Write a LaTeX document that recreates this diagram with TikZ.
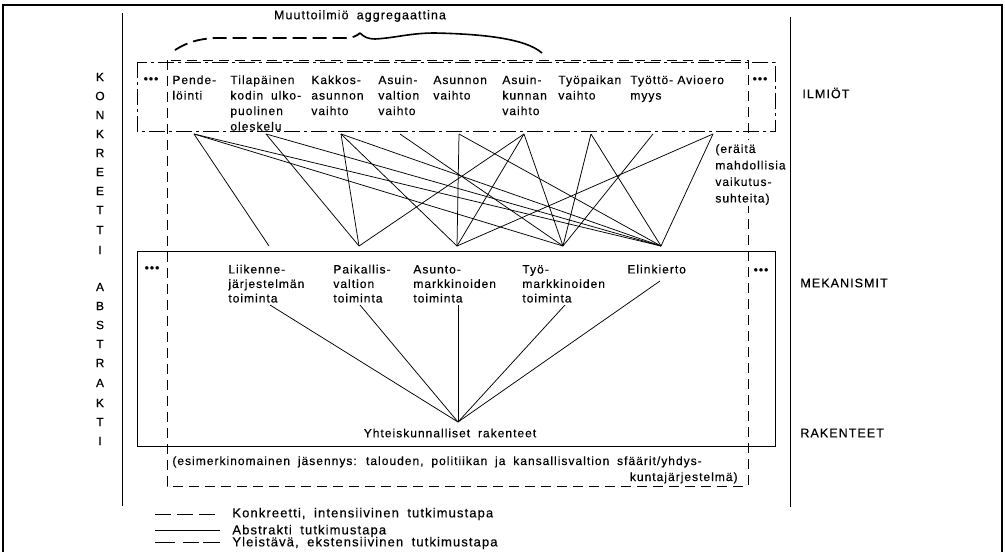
\documentclass[tikz,border=0pt]{standalone}
\usepackage{fontspec}
\setmainfont{Liberation Sans}[LetterSpace=8.5,WordSpace=1.8,FakeBold=0.35]
\begin{document}
\begin{tikzpicture}[x=1pt,y=-1pt,line width=0.8pt,
  every node/.style={inner sep=0pt},
  ph/.style={anchor=north west,align=left,font=\fontsize{12}{15.5}\selectfont},
  mech/.style={anchor=north west,align=left,font=\fontsize{12}{14.5}\selectfont},
  big/.style={font=\fontsize{12.5}{15}\selectfont,anchor=west},
  letter/.style={font=\fontsize{12}{14}\selectfont},
  dotsn/.style={font=\fontsize{12}{12}\selectfont},
  conkr/.style={dash pattern=on 10pt off 6pt,line width=1pt},
  yleis/.style={dash pattern=on 16pt off 4pt on 3pt off 4pt,line width=1pt},
  abst/.style={line width=1pt},
  rel/.style={line width=0.75pt}]
\useasboundingbox (0,0) rectangle (1005,552);
% outer frame
\draw[line width=1.2pt] (3,560) -- (3,5) -- (1002,5) -- (1002,560);
% inner verticals
\draw[line width=1pt] (122,13) -- (122,506);
\draw[line width=1pt] (790,17) -- (790,507);
% left letters
\foreach \ch/\yy in {K/77,O/96,N/115,K/134,R/153,E/172,E/191,T/210,T/230,I/250,
                     A/287,B/306,S/325,T/344,R/363,A/383,K/403,T/422,I/441}
  \node[letter] at (100,\yy) {\ch};
% right labels
\node[big] (ilm) at (802,93) {ILMIÖT};
\node[big] (mek) at (800,283) {MEKANISMIT};
\node[big] (rak) at (800,433) {RAKENTEET};
% title and brace
\node[font=\fontsize{12.5}{14}\selectfont] (title) at (360,16) {Muuttoilmiö aggregaattina};
\draw[line width=1.8pt,dash pattern=on 14pt off 6pt]
  (175,50) .. controls (188,42) and (198,39) .. (215,38) -- (345,38)
  .. controls (352,38) and (357,36) .. (360,33);
\draw[line width=1.6pt]
  (360,33) .. controls (364,37) and (368,39) .. (375,39)
  .. controls (395,38) and (410,33) .. (435,33)
  .. controls (480,34) and (525,38) .. (542,53);
% boxes
\draw[conkr] (167,60) rectangle (748,486);
\draw[yleis] (137,62) rectangle (775,131);
\draw[abst] (137,251) rectangle (775,446);
% phenomena
\node[dotsn] (pdl) at (151,80) {•••};
\node[dotsn] (pdr) at (760,80) {•••};
\node[ph] (p1) at (172,72.8) {\strut Pende-\\löinti};
\node[ph] (p2) at (230,72.8) {\strut Tilapäinen\\kodin ulko-\\puolinen\\oleskelu};
\node[ph] (p3) at (311,72.8) {\strut Kakkos-\\asunnon\\vaihto};
\node[ph] (p4) at (378,72.8) {\strut Asuin-\\valtion\\vaihto};
\node[ph] (p5) at (433,72.8) {\strut Asunnon\\vaihto};
\node[ph] (p6) at (502,72.8) {\strut Asuin-\\kunnan\\vaihto};
\node[ph] (p7) at (558,72.8) {\strut Työpaikan\\vaihto};
\node[ph] (p8) at (630,72.8) {\strut Työttö-\\myys};
\node[ph] (p9) at (677,72.8) {\strut Avioero};
% relation note
\node[anchor=north west,align=left,fill=white,inner sep=1pt,font=\fontsize{12}{16.5}\selectfont] (note) at (714,140)
  {\strut (eräitä\\mahdollisia\\vaikutus-\\suhteita)};
% mechanisms
\node[dotsn] (mdl) at (152,269) {•••};
\node[dotsn] (mdr) at (761,271) {•••};
\node[mech] (m1) at (228,262.9) {\strut Liikenne-\\järjestelmän\\toiminta};
\node[mech] (m2) at (333,262.9) {\strut Paikallis-\\valtion\\toiminta};
\node[mech] (m3) at (413,262.9) {\strut Asunto-\\markkinoiden\\toiminta};
\node[mech] (m4) at (522,262.9) {\strut Työ-\\markkinoiden\\toiminta};
\node[mech] (m5) at (627,262.9) {\strut Elinkierto};
\node[font=\fontsize{12}{14}\selectfont] (yht) at (450,433) {Yhteiskunnalliset rakenteet};
% structures note
\node[anchor=base west,font=\fontsize{12}{14}\selectfont] (esim) at (172,465)
  {(esimerkinomainen jäsennys: talouden, politiikan ja kansallisvaltion sfäärit/yhdys-};
\node[anchor=base east,font=\fontsize{12}{14}\selectfont] (esim2) at (738,481) {kuntajärjestelmä)};
% anchor points
\foreach \n/\xx in {1/194,2/266,3/341,4/400,5/459,6/524,7/591,8/653,9/713}
  \coordinate (t\n) at (\xx,134);
\foreach \n/\xx in {1/269,2/359,3/457,4/563,5/661}
  \coordinate (b\n) at (\xx,246);
\foreach \a/\b in {1/1,1/4,1/5,2/2,2/5,3/2,3/3,3/5,4/4,5/3,5/5,6/2,6/3,6/4,7/4,7/5,8/4,9/3,9/5}
  \draw[rel] (t\a) -- (b\b);
% mechanisms to structures
\coordinate (l1) at (270,305);
\coordinate (l2) at (360,305);
\coordinate (l3) at (458,305);
\coordinate (l4) at (565,305);
\coordinate (l5) at (660,281);
\coordinate (y0) at (458,422);
\foreach \n in {1,...,5} \draw[rel] (l\n) -- (y0);
% legend
\coordinate (g1a) at (155,514); \coordinate (g1b) at (220,514);
\coordinate (g2a) at (155,530); \coordinate (g2b) at (220,530);
\coordinate (g3a) at (155,542); \coordinate (g3b) at (220,542);
\draw[conkr,dash pattern=on 16pt off 6pt] (g1a) -- (g1b);
\draw[abst] (g2a) -- (g2b);
\draw[line width=1pt,dash pattern=on 20pt off 8pt on 16pt off 4pt] (g3a) -- (g3b);
\node[anchor=west,font=\fontsize{13}{14}\selectfont] (leg1) at (232,514) {Konkreetti, intensiivinen tutkimustapa};
\node[anchor=west,font=\fontsize{13}{14}\selectfont] (leg2) at (232,531) {Abstrakti tutkimustapa};
\node[anchor=west,font=\fontsize{13}{14}\selectfont] (leg3) at (232,543) {Yleistävä, ekstensiivinen tutkimustapa};
\end{tikzpicture}
\end{document}
